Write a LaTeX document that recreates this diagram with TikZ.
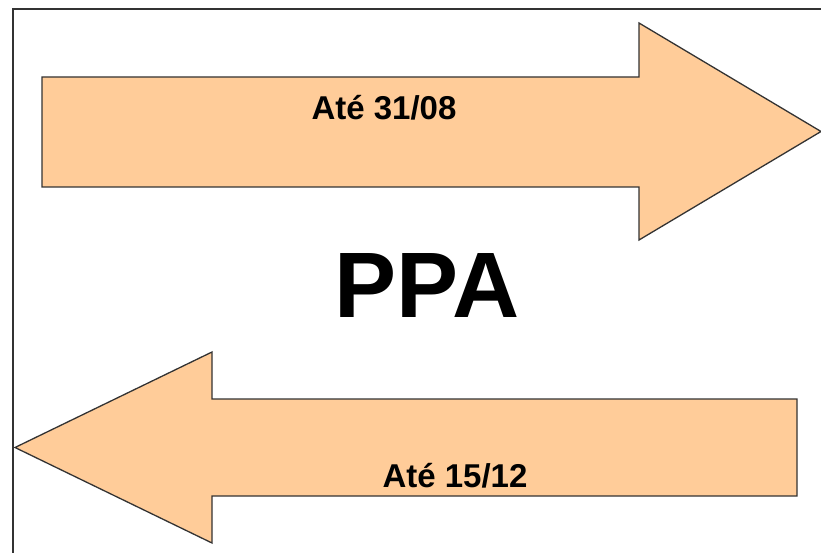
\documentclass[tikz,border=0pt]{standalone}
\usepackage{fontspec}
\setmainfont{Liberation Sans}
\begin{document}
\begin{tikzpicture}[x=1pt,y=-1pt,
  arrowshape/.style={fill=peach, draw=outline, line width=1.3pt, line join=miter},
  label/.style={font=\bfseries\fontsize{33}{33}\selectfont, anchor=base, inner sep=0pt},
  title/.style={font=\bfseries\fontsize{93}{93}\selectfont, anchor=base, inner sep=0pt}]
\definecolor{peach}{HTML}{FFCC99}
\definecolor{outline}{HTML}{333333}
\useasboundingbox (0,0) rectangle (821,553);
\clip (0,0) rectangle (821,553);
\fill[white] (0,0) rectangle (821,553);
% frame
\draw[outline, line width=1.4pt] (13,9) rectangle (840,570);
% top arrow (right)
\draw[arrowshape] (42,77) -- (639,77) -- (639,23) -- (821,131.5) -- (639,240) -- (639,187) -- (42,187) -- cycle;
% bottom arrow (left)
\draw[arrowshape] (797,399) -- (212,399) -- (212,352) -- (15,447.5) -- (212,543) -- (212,496) -- (797,496) -- cycle;
\node[label] (top) at (384,120) {Até 31/08};
\node[label] (bottom) at (455,487) {Até 15/12};
\node[title] (ppa) at (427,317) {PPA};
\end{tikzpicture}
\end{document}
